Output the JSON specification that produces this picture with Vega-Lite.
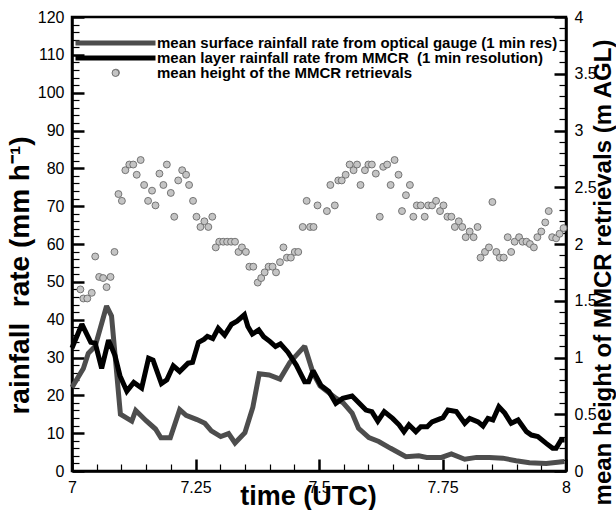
{
  "$schema": "https://vega.github.io/schema/vega-lite/v6.json",
  "width": 494,
  "height": 454,
  "autosize": {"type": "none"},
  "padding": {"left": 72, "top": 17, "right": 50, "bottom": 39},
  "background": "white",
  "config": {
    "view": {"stroke": "black", "strokeWidth": 2.5},
    "axis": {
      "grid": false,
      "domainColor": "black",
      "domainWidth": 2.5,
      "tickColor": "black",
      "labelFont": "Liberation Sans",
      "labelFontSize": 16,
      "labelColor": "black",
      "labelFlush": false,
      "labelOverlap": false,
      "titleFont": "Liberation Sans",
      "titleFontWeight": "bold",
      "titleColor": "black"
    },
    "legend": {
      "title": null,
      "orient": "none",
      "padding": 0,
      "rowPadding": 0,
      "symbolOffset": 0,
      "labelOffset": 34,
      "labelFont": "Liberation Sans",
      "labelFontSize": 15,
      "labelFontWeight": "bold",
      "labelColor": "black",
      "labelLimit": 0,
      "labelBaseline": "middle"
    }
  },
  "datasets": {
    "gauge": [
      {"t": 7.0, "rain": 22.1}, {"t": 7.023, "rain": 27.1}, {"t": 7.033, "rain": 31.1}, {"t": 7.047, "rain": 33.0},
      {"t": 7.07, "rain": 43.6}, {"t": 7.08, "rain": 41.0}, {"t": 7.098, "rain": 15.0}, {"t": 7.121, "rain": 13.2},
      {"t": 7.129, "rain": 16.0}, {"t": 7.15, "rain": 13.3}, {"t": 7.169, "rain": 11.1}, {"t": 7.18, "rain": 8.8},
      {"t": 7.199, "rain": 8.8}, {"t": 7.218, "rain": 16.2}, {"t": 7.231, "rain": 14.7}, {"t": 7.253, "rain": 13.6},
      {"t": 7.269, "rain": 12.6}, {"t": 7.282, "rain": 10.6}, {"t": 7.301, "rain": 9.1}, {"t": 7.317, "rain": 9.9},
      {"t": 7.33, "rain": 7.4}, {"t": 7.35, "rain": 10.1}, {"t": 7.366, "rain": 16.8}, {"t": 7.379, "rain": 25.7},
      {"t": 7.399, "rain": 25.4}, {"t": 7.421, "rain": 24.3}, {"t": 7.441, "rain": 28.7}, {"t": 7.471, "rain": 33.0},
      {"t": 7.488, "rain": 25.9}, {"t": 7.502, "rain": 22.5}, {"t": 7.535, "rain": 19.2}, {"t": 7.549, "rain": 18.0},
      {"t": 7.567, "rain": 15.3}, {"t": 7.58, "rain": 11.3}, {"t": 7.601, "rain": 8.8}, {"t": 7.621, "rain": 7.8},
      {"t": 7.645, "rain": 6.0}, {"t": 7.676, "rain": 3.8}, {"t": 7.702, "rain": 4.0}, {"t": 7.718, "rain": 3.6},
      {"t": 7.748, "rain": 3.6}, {"t": 7.768, "rain": 4.5}, {"t": 7.795, "rain": 3.1}, {"t": 7.819, "rain": 3.6},
      {"t": 7.845, "rain": 3.6}, {"t": 7.872, "rain": 3.4}, {"t": 7.899, "rain": 2.7}, {"t": 7.926, "rain": 2.2},
      {"t": 7.96, "rain": 2.0}, {"t": 7.997, "rain": 2.5}
    ],
    "mmcr": [
      {"t": 7.0, "rain": 32.5}, {"t": 7.02, "rain": 38.8}, {"t": 7.038, "rain": 34.0}, {"t": 7.047, "rain": 33.8},
      {"t": 7.06, "rain": 27.1}, {"t": 7.074, "rain": 34.6}, {"t": 7.087, "rain": 30.5}, {"t": 7.097, "rain": 25.2},
      {"t": 7.111, "rain": 21.1}, {"t": 7.125, "rain": 23.4}, {"t": 7.141, "rain": 21.9}, {"t": 7.155, "rain": 29.8},
      {"t": 7.164, "rain": 29.3}, {"t": 7.181, "rain": 23.1}, {"t": 7.192, "rain": 24.1}, {"t": 7.205, "rain": 27.8},
      {"t": 7.218, "rain": 26.3}, {"t": 7.235, "rain": 28.5}, {"t": 7.244, "rain": 28.7}, {"t": 7.256, "rain": 34.0},
      {"t": 7.267, "rain": 34.8}, {"t": 7.274, "rain": 35.6}, {"t": 7.285, "rain": 35.0}, {"t": 7.296, "rain": 37.7},
      {"t": 7.309, "rain": 35.9}, {"t": 7.323, "rain": 38.8}, {"t": 7.334, "rain": 39.6}, {"t": 7.349, "rain": 41.3},
      {"t": 7.356, "rain": 38.2}, {"t": 7.365, "rain": 36.2}, {"t": 7.378, "rain": 37.3}, {"t": 7.388, "rain": 35.5},
      {"t": 7.401, "rain": 34.2}, {"t": 7.412, "rain": 32.9}, {"t": 7.422, "rain": 33.6}, {"t": 7.437, "rain": 31.4},
      {"t": 7.454, "rain": 28.0}, {"t": 7.471, "rain": 23.6}, {"t": 7.479, "rain": 23.6}, {"t": 7.488, "rain": 26.5},
      {"t": 7.504, "rain": 22.6}, {"t": 7.52, "rain": 21.0}, {"t": 7.534, "rain": 17.9}, {"t": 7.548, "rain": 19.2},
      {"t": 7.567, "rain": 19.8}, {"t": 7.58, "rain": 18.1}, {"t": 7.595, "rain": 16.1}, {"t": 7.607, "rain": 15.7},
      {"t": 7.619, "rain": 13.2}, {"t": 7.632, "rain": 15.7}, {"t": 7.649, "rain": 13.9}, {"t": 7.662, "rain": 12.2},
      {"t": 7.672, "rain": 10.4}, {"t": 7.682, "rain": 12.2}, {"t": 7.696, "rain": 10.4}, {"t": 7.706, "rain": 11.7},
      {"t": 7.719, "rain": 11.7}, {"t": 7.729, "rain": 13.0}, {"t": 7.751, "rain": 14.1}, {"t": 7.761, "rain": 16.1},
      {"t": 7.778, "rain": 15.7}, {"t": 7.795, "rain": 12.6}, {"t": 7.805, "rain": 13.9}, {"t": 7.822, "rain": 13.0},
      {"t": 7.832, "rain": 11.9}, {"t": 7.842, "rain": 13.9}, {"t": 7.852, "rain": 13.5}, {"t": 7.864, "rain": 17.0},
      {"t": 7.876, "rain": 15.3}, {"t": 7.889, "rain": 12.6}, {"t": 7.903, "rain": 13.5}, {"t": 7.92, "rain": 10.4},
      {"t": 7.93, "rain": 9.5}, {"t": 7.943, "rain": 9.1}, {"t": 7.96, "rain": 7.3}, {"t": 7.973, "rain": 6.0},
      {"t": 7.98, "rain": 6.0}, {"t": 7.99, "rain": 8.2}, {"t": 7.997, "rain": 8.2}
    ],
    "height": [
      {"t": 7.017, "h": 1.6}, {"t": 7.023, "h": 1.52}, {"t": 7.031, "h": 1.52}, {"t": 7.04, "h": 1.57},
      {"t": 7.047, "h": 1.89}, {"t": 7.055, "h": 1.71}, {"t": 7.063, "h": 1.7}, {"t": 7.07, "h": 1.62},
      {"t": 7.078, "h": 1.71}, {"t": 7.086, "h": 1.93}, {"t": 7.089, "h": 3.51}, {"t": 7.094, "h": 2.44},
      {"t": 7.101, "h": 2.38}, {"t": 7.108, "h": 2.65}, {"t": 7.116, "h": 2.7}, {"t": 7.124, "h": 2.7},
      {"t": 7.131, "h": 2.61}, {"t": 7.139, "h": 2.74}, {"t": 7.146, "h": 2.52}, {"t": 7.154, "h": 2.38},
      {"t": 7.162, "h": 2.47}, {"t": 7.169, "h": 2.34}, {"t": 7.177, "h": 2.62}, {"t": 7.185, "h": 2.52},
      {"t": 7.192, "h": 2.7}, {"t": 7.2, "h": 2.45}, {"t": 7.207, "h": 2.24}, {"t": 7.215, "h": 2.56},
      {"t": 7.223, "h": 2.65}, {"t": 7.231, "h": 2.61}, {"t": 7.237, "h": 2.52}, {"t": 7.245, "h": 2.38},
      {"t": 7.252, "h": 2.24}, {"t": 7.26, "h": 2.15}, {"t": 7.268, "h": 2.2}, {"t": 7.276, "h": 2.15},
      {"t": 7.284, "h": 2.24}, {"t": 7.291, "h": 1.97}, {"t": 7.298, "h": 2.02}, {"t": 7.306, "h": 2.02},
      {"t": 7.314, "h": 2.02}, {"t": 7.322, "h": 2.02}, {"t": 7.33, "h": 2.02}, {"t": 7.337, "h": 1.93},
      {"t": 7.344, "h": 1.97}, {"t": 7.352, "h": 1.93}, {"t": 7.359, "h": 1.8}, {"t": 7.367, "h": 1.8},
      {"t": 7.376, "h": 1.66}, {"t": 7.383, "h": 1.7}, {"t": 7.39, "h": 1.75}, {"t": 7.398, "h": 1.8},
      {"t": 7.406, "h": 1.8}, {"t": 7.413, "h": 1.75}, {"t": 7.421, "h": 1.84}, {"t": 7.428, "h": 1.97},
      {"t": 7.435, "h": 1.88}, {"t": 7.443, "h": 1.88}, {"t": 7.451, "h": 1.93}, {"t": 7.458, "h": 1.93},
      {"t": 7.467, "h": 2.15}, {"t": 7.475, "h": 2.38}, {"t": 7.482, "h": 2.15}, {"t": 7.489, "h": 2.15},
      {"t": 7.497, "h": 2.34}, {"t": 7.516, "h": 2.29}, {"t": 7.523, "h": 2.52}, {"t": 7.532, "h": 2.34},
      {"t": 7.539, "h": 2.56}, {"t": 7.546, "h": 2.56}, {"t": 7.554, "h": 2.61}, {"t": 7.562, "h": 2.7},
      {"t": 7.57, "h": 2.65}, {"t": 7.577, "h": 2.7}, {"t": 7.584, "h": 2.52}, {"t": 7.593, "h": 2.65},
      {"t": 7.6, "h": 2.7}, {"t": 7.607, "h": 2.7}, {"t": 7.615, "h": 2.62}, {"t": 7.623, "h": 2.24},
      {"t": 7.63, "h": 2.68}, {"t": 7.638, "h": 2.7}, {"t": 7.645, "h": 2.52}, {"t": 7.653, "h": 2.74},
      {"t": 7.661, "h": 2.61}, {"t": 7.668, "h": 2.29}, {"t": 7.676, "h": 2.43}, {"t": 7.684, "h": 2.52},
      {"t": 7.691, "h": 2.24}, {"t": 7.698, "h": 2.34}, {"t": 7.706, "h": 2.34}, {"t": 7.714, "h": 2.24},
      {"t": 7.721, "h": 2.34}, {"t": 7.729, "h": 2.34}, {"t": 7.737, "h": 2.38}, {"t": 7.745, "h": 2.29},
      {"t": 7.752, "h": 2.34}, {"t": 7.76, "h": 2.24}, {"t": 7.768, "h": 2.24}, {"t": 7.775, "h": 2.15},
      {"t": 7.783, "h": 2.2}, {"t": 7.79, "h": 2.15}, {"t": 7.797, "h": 2.06}, {"t": 7.805, "h": 2.11},
      {"t": 7.813, "h": 2.06}, {"t": 7.821, "h": 2.15}, {"t": 7.827, "h": 1.88}, {"t": 7.836, "h": 1.93},
      {"t": 7.844, "h": 1.97}, {"t": 7.851, "h": 2.37}, {"t": 7.859, "h": 1.93}, {"t": 7.866, "h": 1.88},
      {"t": 7.874, "h": 1.88}, {"t": 7.882, "h": 2.06}, {"t": 7.889, "h": 1.93}, {"t": 7.896, "h": 2.02},
      {"t": 7.905, "h": 2.06}, {"t": 7.912, "h": 2.02}, {"t": 7.92, "h": 2.02}, {"t": 7.927, "h": 2.0},
      {"t": 7.935, "h": 1.97}, {"t": 7.942, "h": 2.06}, {"t": 7.95, "h": 2.11}, {"t": 7.958, "h": 2.19},
      {"t": 7.965, "h": 2.29}, {"t": 7.972, "h": 2.06}, {"t": 7.98, "h": 2.05}, {"t": 7.987, "h": 2.09},
      {"t": 7.995, "h": 2.14}
    ]
  },
  "resolve": {
    "scale": {"x": "independent", "y": "independent"},
    "axis": {"x": "independent", "y": "independent"}
  },
  "layer": [
    {
      "data": {"name": "gauge"},
      "mark": {"type": "line", "strokeWidth": 5, "strokeMiterLimit": 2},
      "encoding": {
        "x": {
          "field": "t",
          "type": "quantitative",
          "scale": {"domain": [7, 8], "nice": false, "zero": false},
          "axis": {
            "orient": "bottom",
            "title": "time (UTC)",
            "values": [7, 7.25, 7.5, 7.75, 8],
            "labelExpr": "format(datum.value, '~g')",
            "tickSize": -12,
            "tickWidth": 2.5,
            "labelPadding": 20,
            "titleFontSize": 27,
            "titleX": 236,
            "titleY": 25,
            "titleBaseline": "middle",
            "titleAlign": "center"
          }
        },
        "y": {
          "field": "rain",
          "type": "quantitative",
          "scale": {"domain": [0, 120], "nice": false},
          "axis": {
            "orient": "left",
            "title": "rainfall\u00a0 rate (mm h⁻¹)",
            "values": [0, 10, 20, 30, 40, 50, 60, 70, 80, 90, 100, 110, 120],
            "tickSize": -12,
            "tickWidth": 2.5,
            "labelPadding": 20,
            "titleFontSize": 28,
            "titleAngle": 270,
            "titleX": -52,
            "titleY": 258,
            "titleBaseline": "middle",
            "titleAlign": "center"
          }
        },
        "stroke": {
          "datum": "mean surface rainfall rate from optical gauge (1 min res)",
          "scale": {"domain": ["mean surface rainfall rate from optical gauge (1 min res)"], "range": ["#4d4d4d"]},
          "legend": {
            "legendX": 36,
            "legendY": 18.5,
            "symbolType": "M-8,0H8",
            "symbolSize": 100,
            "symbolStrokeWidth": 5
          }
        }
      }
    },
    {
      "data": {"name": "mmcr"},
      "mark": {"type": "line", "strokeWidth": 5, "strokeMiterLimit": 2},
      "encoding": {
        "x": {
          "field": "t",
          "type": "quantitative",
          "scale": {"domain": [7, 8], "nice": false, "zero": false},
          "axis": {
            "orient": "bottom",
            "title": null,
            "labels": false,
            "domain": false,
            "values": [7.05, 7.1, 7.15, 7.2, 7.3, 7.35, 7.4, 7.45, 7.55, 7.6, 7.65, 7.7, 7.8, 7.85, 7.9, 7.95],
            "tickSize": -7,
            "tickWidth": 1.2
          }
        },
        "y": {
          "field": "rain",
          "type": "quantitative",
          "scale": {"domain": [0, 120], "nice": false},
          "axis": {
            "orient": "left",
            "title": null,
            "labels": false,
            "domain": false,
            "values": [2, 4, 6, 8, 12, 14, 16, 18, 22, 24, 26, 28, 32, 34, 36, 38, 42, 44, 46, 48, 52, 54, 56, 58, 62, 64, 66, 68, 72, 74, 76, 78, 82, 84, 86, 88, 92, 94, 96, 98, 102, 104, 106, 108, 112, 114, 116, 118],
            "tickSize": -7,
            "tickWidth": 1.2
          }
        },
        "color": {
          "datum": "mean layer rainfall rate from MMCR\u00a0 (1 min resolution)",
          "scale": {"domain": ["mean layer rainfall rate from MMCR\u00a0 (1 min resolution)"], "range": ["#000000"]},
          "legend": {
            "legendX": 36,
            "legendY": 33.5,
            "symbolType": "M-8,0H8",
            "symbolSize": 100,
            "symbolStrokeWidth": 5,
            "symbolStrokeColor": "#000000"
          }
        }
      }
    },
    {
      "data": {"name": "height"},
      "mark": {"type": "point", "filled": true, "size": 48, "opacity": 0},
      "encoding": {
        "x": {
          "field": "t",
          "type": "quantitative",
          "scale": {"domain": [7, 8], "nice": false, "zero": false},
          "axis": null
        },
        "y": {
          "field": "h",
          "type": "quantitative",
          "scale": {"domain": [0, 4], "nice": false, "zero": false},
          "axis": {
            "orient": "right",
            "title": null,
            "labels": false,
            "domain": false,
            "values": [0.1, 0.2, 0.3, 0.4, 0.6, 0.7, 0.8, 0.9, 1.1, 1.2, 1.3, 1.4, 1.6, 1.7, 1.8, 1.9, 2.1, 2.2, 2.3, 2.4, 2.6, 2.7, 2.8, 2.9, 3.1, 3.2, 3.3, 3.4, 3.6, 3.7, 3.8, 3.9],
            "tickSize": -7,
            "tickWidth": 1.2
          }
        }
      }
    },
    {
      "data": {"name": "height"},
      "mark": {"type": "point", "filled": true, "size": 48, "stroke": "#6a6a6a", "strokeWidth": 0.9, "opacity": 1},
      "encoding": {
        "x": {
          "field": "t",
          "type": "quantitative",
          "scale": {"domain": [7, 8], "nice": false, "zero": false},
          "axis": null
        },
        "y": {
          "field": "h",
          "type": "quantitative",
          "scale": {"domain": [0, 4], "nice": false, "zero": false},
          "axis": {
            "orient": "right",
            "title": "mean height of MMCR retrievals (m AGL)",
            "values": [0, 0.5, 1, 1.5, 2, 2.5, 3, 3.5, 4],
            "labelExpr": "format(datum.value, '~g')",
            "tickSize": -12,
            "tickWidth": 2.5,
            "labelPadding": 20,
            "titleFontSize": 24,
            "titleAngle": 270,
            "titleX": 37,
            "titleY": 255,
            "titleBaseline": "middle",
            "titleAlign": "center"
          }
        },
        "fill": {
          "datum": "mean height of the MMCR retrievals",
          "scale": {"domain": ["mean height of the MMCR retrievals"], "range": ["#c4c4c4"]},
          "legend": {
            "legendX": 36,
            "legendY": 48.5,
            "symbolType": "circle",
            "symbolSize": 48,
            "symbolStrokeColor": "#6a6a6a",
            "symbolStrokeWidth": 0.9,
            "symbolOpacity": 1
          }
        }
      }
    }
  ]
}
